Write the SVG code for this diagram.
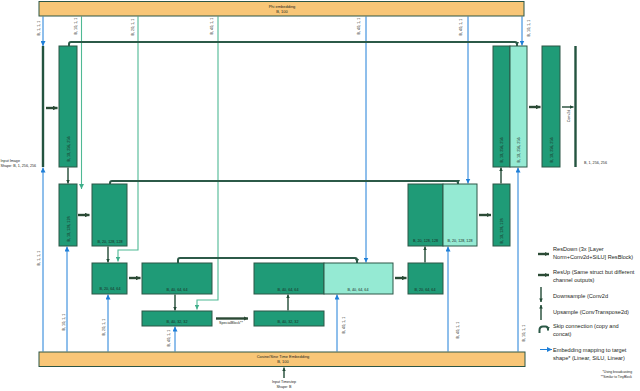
<svg xmlns="http://www.w3.org/2000/svg" width="640" height="391" viewBox="0 0 640 391">
<style>
text{font-family:"Liberation Sans",Arial,sans-serif;fill:#1b2620}
.s{font-size:3.7px}
.bt{font-size:4px}
.lg{font-size:5.6px}
.fn{font-size:3.3px}
.box{fill:#1f9b77;stroke:#2c5646;stroke-width:1}
.lt{fill:#95ead3;stroke:#2c5646;stroke-width:1}
.bar{fill:#f8c677;stroke:#2c5646;stroke-width:1}
.rd{stroke:#2b4a35;stroke-width:2.4;fill:none;marker-end:url(#mD)}
.ud{stroke:#214a36;stroke-width:1.4;fill:none;marker-end:url(#mU)}
.bl{stroke:#1e7fd8;stroke-width:1;fill:none;marker-end:url(#mB)}
.te{stroke:#4fb994;stroke-width:1.1;fill:none;marker-end:url(#mT)}
.sk{stroke:#2c5a48;stroke-width:2;fill:none;marker-end:url(#mS)}
.il{stroke:#245440;stroke-width:2.4}
</style>
<defs>
<marker id="mD" viewBox="0 0 6 6" refX="6" refY="3" markerWidth="4.5" markerHeight="4.5" orient="auto" markerUnits="userSpaceOnUse"><path d="M0,0L6,3L0,6z" fill="#2b4a35"/></marker>
<marker id="mU" viewBox="0 0 6 6" refX="6" refY="3" markerWidth="3.6" markerHeight="3.6" orient="auto" markerUnits="userSpaceOnUse"><path d="M0,0L6,3L0,6z" fill="#214a36"/></marker>
<marker id="mB" viewBox="0 0 6 6" refX="6" refY="3" markerWidth="5" markerHeight="5" orient="auto" markerUnits="userSpaceOnUse"><path d="M0,0L6,3L0,6z" fill="#1e7fd8"/></marker>
<marker id="mT" viewBox="0 0 6 6" refX="6" refY="3" markerWidth="5" markerHeight="5" orient="auto" markerUnits="userSpaceOnUse"><path d="M0,0L6,3L0,6z" fill="#3fae8a"/></marker>
<marker id="mS" viewBox="0 0 6 6" refX="6" refY="3" markerWidth="4" markerHeight="4" orient="auto" markerUnits="userSpaceOnUse"><path d="M0,0L6,3L0,6z" fill="#2c5a48"/></marker>
</defs>
<rect width="640" height="391" fill="#ffffff"/>

<g id="connectors">
<!-- teal lines from phi embedding -->
<path class="te" d="M81.5,16.5V189"/>
<path class="te" d="M138,16.5V250H118V261.5"/>
<path class="te" d="M218,16.5V300H197V309.5"/>
<!-- blue lines from phi embedding -->
<path class="bl" d="M43,16.5V46"/>
<path class="bl" d="M366,16.5V262.5"/>
<path class="bl" d="M468,16.5V183.5"/>
<path class="bl" d="M522,16.5V45.5"/>
<!-- blue lines from time embedding -->
<path class="bl" d="M43,351.5V167.5"/>
<path class="bl" d="M67,351.5V246.5"/>
<path class="bl" d="M108,351.5V294.5"/>
<path class="bl" d="M175,351.5V326.5"/>
<path class="bl" d="M337,351.5V294.5"/>
<path class="bl" d="M448,351.5V246.5"/>
<path class="bl" d="M518,351.5V167.5"/>
<!-- skip connections -->
<path class="sk" d="M69,46V44Q69,42 71,42H515Q517,42 517,44V46"/>
<path class="sk" d="M110,184V183Q110,181 112,181H456Q458,181 458,183V184"/>
<path class="sk" d="M178,263V260Q178,258 180,258H355Q357,258 357,260V263"/>
<!-- ResDown / ResUp -->
<path class="rd" d="M46,108H57.5"/>
<path class="rd" d="M78,215H89.5"/>
<path class="rd" d="M129,278H140.5"/>
<path class="rd" d="M216,318.5H248"/>
<path class="rd" d="M395,278H406.5"/>
<path class="rd" d="M479,215H491"/>
<path class="rd" d="M529,107H540.5"/>
<path class="ud" d="M562,107H573.5"/>
<!-- down / up sampling -->
<path class="ud" d="M68,167.5V183.5"/>
<path class="ud" d="M108,246.5V262.5"/>
<path class="ud" d="M175,294.5V310.5"/>
<path class="ud" d="M288,310.5V294.5"/>
<path class="ud" d="M425,262.5V246.5"/>
<path class="ud" d="M501,183.5V167.5"/>
<path class="ud" d="M284,378V367.5"/>
</g>

<g id="phi-embedding">
<rect class="bar" x="39" y="1.5" width="485" height="14.5"/>
<text class="bt" x="282" y="7.5" text-anchor="middle">Phi embedding</text>
<text class="bt" x="282" y="12.5" text-anchor="middle">B, 100</text>
</g>
<g id="time-embedding">
<rect class="bar" x="39" y="352" width="486" height="14.5"/>
<text class="bt" x="283" y="358" text-anchor="middle">Cosine/Sine Time Embedding</text>
<text class="bt" x="283" y="363" text-anchor="middle">B, 100</text>
</g>

<g id="input-image">
<line class="il" x1="43" y1="46" x2="43" y2="167"/>
<text class="s" x="0.5" y="162">Input Image</text>
<text class="s" x="0.5" y="167">Shape: B, 1, 256, 256</text>
</g>
<g id="block1"><rect class="box" x="59" y="46" width="18" height="121"/><text class="s" transform="translate(69.5,149) rotate(-90)" text-anchor="middle">B, 10, 256, 256</text></g>
<g id="block2"><rect class="box" x="59" y="184" width="18" height="62"/><text class="s" transform="translate(69.5,229) rotate(-90)" text-anchor="middle">B, 10, 128, 128</text></g>
<g id="block3"><rect class="box" x="92" y="184" width="35" height="62"/><text class="s" x="110" y="242.5" text-anchor="middle">B, 20, 128, 128</text></g>
<g id="block4"><rect class="box" x="92" y="263" width="35" height="31"/><text class="s" x="110" y="290" text-anchor="middle">B, 20, 64, 64</text></g>
<g id="block5"><rect class="box" x="142" y="263" width="70" height="31"/><text class="s" x="177" y="290.5" text-anchor="middle">B, 40, 64, 64</text></g>
<g id="block6"><rect class="box" x="142" y="311" width="70" height="15"/><text class="s" x="177" y="323" text-anchor="middle">B, 40, 32, 32</text></g>
<g id="special-block"><text class="s" x="231" y="324" text-anchor="middle">SpecialBlock**</text></g>
<g id="block7"><rect class="box" x="254" y="311" width="70" height="15"/><text class="s" x="288" y="323" text-anchor="middle">B, 40, 32, 32</text></g>
<g id="block8">
<rect class="box" x="254" y="263" width="70" height="31"/>
<rect class="lt" x="324" y="263" width="69" height="31"/>
<text class="s" x="288" y="290.5" text-anchor="middle">B, 40, 64, 64</text>
<text class="s" x="358" y="291" text-anchor="middle">B, 40, 64, 64</text>
</g>
<g id="block9"><rect class="box" x="408" y="263" width="35" height="31"/><text class="s" x="425" y="290.5" text-anchor="middle">B, 20, 64, 64</text></g>
<g id="block10">
<rect class="box" x="408" y="184" width="35" height="62"/>
<rect class="lt" x="443" y="184" width="34" height="62"/>
<text class="s" x="425.5" y="242" text-anchor="middle">B, 20, 128, 128</text>
<text class="s" x="460" y="242" text-anchor="middle">B, 20, 128, 128</text>
</g>
<g id="block11"><rect class="box" x="493" y="184" width="17" height="62"/><text class="s" transform="translate(502.5,231) rotate(-90)" text-anchor="middle">B, 10, 128, 128</text></g>
<g id="block12">
<rect class="box" x="493" y="46" width="17" height="121"/>
<rect class="lt" x="510" y="46" width="17" height="121"/>
<text class="s" transform="translate(502.5,150) rotate(-90)" text-anchor="middle">B, 10, 256, 256</text>
<text class="s" transform="translate(519.5,150) rotate(-90)" text-anchor="middle">B, 10, 256, 256</text>
</g>
<g id="block13"><rect class="box" x="542" y="46" width="18" height="121"/><text class="s" transform="translate(552.5,150) rotate(-90)" text-anchor="middle">B, 10, 256, 256</text></g>
<g id="conv2d"><text class="s" transform="translate(569.5,116) rotate(-90)" text-anchor="middle">Conv2d</text></g>
<g id="output">
<line class="il" x1="575.5" y1="46" x2="575.5" y2="167"/>
<text class="s" x="584" y="163.5">B, 1, 256, 256</text>
</g>
<g id="input-timestep">
<text class="s" x="284" y="383" text-anchor="middle">Input Timestep</text>
<text class="s" x="284" y="388" text-anchor="middle">Shape: B</text>
</g>

<g id="line-labels">
<text class="s" transform="translate(39.5,28) rotate(-90)" text-anchor="middle">B, 1, 1, 1</text>
<text class="s" transform="translate(76.5,26) rotate(-90)" text-anchor="middle">B, 10, 1, 1</text>
<text class="s" transform="translate(133.5,27) rotate(-90)" text-anchor="middle">B, 20, 1, 1</text>
<text class="s" transform="translate(212.5,26) rotate(-90)" text-anchor="middle">B, 40, 1, 1</text>
<text class="s" transform="translate(359.5,26) rotate(-90)" text-anchor="middle">B, 40, 1, 1</text>
<text class="s" transform="translate(461.5,27) rotate(-90)" text-anchor="middle">B, 40, 1, 1</text>
<text class="s" transform="translate(529.5,28) rotate(-90)" text-anchor="middle">B, 10, 1, 1</text>
<text class="s" transform="translate(39.5,258) rotate(-90)" text-anchor="middle">B, 1, 1, 1</text>
<text class="s" transform="translate(64.5,322) rotate(-90)" text-anchor="middle">B, 10, 1, 1</text>
<text class="s" transform="translate(104.5,327) rotate(-90)" text-anchor="middle">B, 20, 1, 1</text>
<text class="s" transform="translate(169.5,338) rotate(-90)" text-anchor="middle">B, 40, 1, 1</text>
<text class="s" transform="translate(344.5,325) rotate(-90)" text-anchor="middle">B, 40, 1, 1</text>
<text class="s" transform="translate(458.5,330) rotate(-90)" text-anchor="middle">B, 40, 1, 1</text>
<text class="s" transform="translate(524.5,333) rotate(-90)" text-anchor="middle">B, 10, 1, 1</text>
</g>

<g id="legend">
<path class="rd" d="M538,254H549"/>
<text class="lg" x="553" y="251">ResDown (3x [Layer</text>
<text class="lg" x="553" y="259">Norm+Conv2d+SiLU] ResBlock)</text>
<path class="rd" d="M538,275H549"/>
<text class="lg" x="553" y="274">ResUp (Same struct but different</text>
<text class="lg" x="553" y="282">channel outputs)</text>
<path class="ud" d="M541,287V302"/>
<text class="lg" x="553" y="297.5">Downsample (Conv2d</text>
<path class="ud" d="M541,320V305"/>
<text class="lg" x="553" y="313.5">Upsample (ConvTranspose2d)</text>
<path class="sk" d="M539.5,333V330Q539.5,326.5 543,326.5H545.5Q548,326.5 548,329V330.5"/>
<text class="lg" x="553" y="328">Skip connection (copy and</text>
<text class="lg" x="553" y="336">concat)</text>
<path class="bl" d="M540,349.5H552"/>
<text class="lg" x="553" y="351.5">Embedding mapping to target</text>
<text class="lg" x="553" y="359.5">shape* (Linear, SiLU, Linear)</text>
<text class="fn" x="632" y="372.5" text-anchor="end">*Using broadcasting</text>
<text class="fn" x="632" y="377.5" text-anchor="end">**Similar to TinyBlock</text>
</g>
</svg>
